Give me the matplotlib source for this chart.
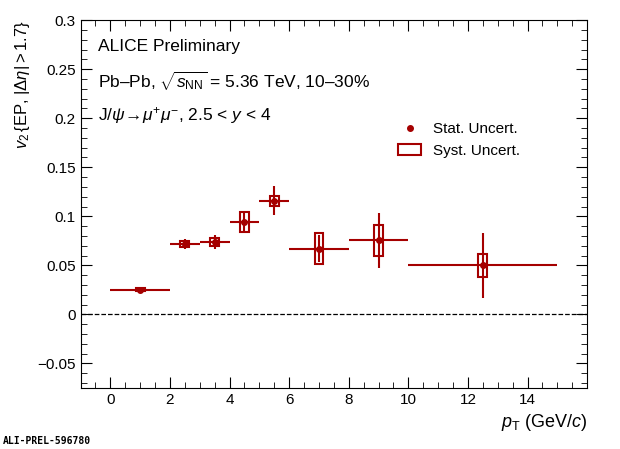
import numpy as np
import matplotlib.pyplot as plt
from matplotlib.patches import Rectangle
from matplotlib.lines import Line2D

pt = [1, 2.5, 3.5, 4.5, 5.5, 7, 9, 12.5]
pt_err = [1, 0.5, 0.5, 0.5, 0.5, 1, 1, 2.5]
v2 = [0.025, 0.072, 0.074, 0.094, 0.116, 0.067, 0.0755, 0.050]
stat = [0.0015, 0.005, 0.007, 0.011, 0.015, 0.014, 0.028, 0.033]
syst = [0.0015, 0.003, 0.004, 0.010, 0.005, 0.016, 0.016, 0.012]

red = "#a50000"
plt.rcParams["font.family"] = ["Liberation Sans", "DejaVu Sans"]
plt.rcParams["mathtext.fontset"] = "custom"
plt.rcParams["mathtext.rm"] = "Liberation Sans"
plt.rcParams["mathtext.it"] = "Liberation Sans:italic"

fig = plt.figure(figsize=(6.2, 4.49), dpi=100)
ax = fig.add_axes([0.13, 0.136, 0.817, 0.819])

for x, y, s in zip(pt, v2, syst):
    ax.add_patch(Rectangle((x - 0.15, y - s), 0.3, 2 * s, fill=False, ec=red, lw=1.5, zorder=3))
ax.errorbar(pt, v2, xerr=pt_err, yerr=stat, fmt="o", color=red, ms=4, lw=1.5, capsize=0, zorder=4)
ax.axhline(0, color="black", ls="--", lw=0.9)

ax.set_xlim(-1, 16)
ax.set_ylim(-0.075, 0.3)
ax.set_xticks(np.arange(0, 16, 2))
ax.set_yticks([-0.05, 0, 0.05, 0.1, 0.15, 0.2, 0.25, 0.3])
ax.set_yticklabels(["\u22120.05", "0", "0.05", "0.1", "0.15", "0.2", "0.25", "0.3"])
ax.minorticks_on()
ax.tick_params(which="both", direction="in", top=True, right=True, labelsize=11)
ax.tick_params(which="major", length=8)
ax.tick_params(which="minor", length=4)
ax.set_xlabel(r"$p_{\rm T}$ (GeV/$c$)", fontsize=13, loc="right")
ax.set_ylabel(r"$v_2\,\{$EP, $|\Delta\eta| > 1.7\}$", fontsize=12, loc="top")

ax.text(0.035, 0.95, "ALICE Preliminary", transform=ax.transAxes, fontsize=12.5, va="top")
ax.text(0.035, 0.865, "Pb\u2013Pb, " + r"$\sqrt{s_{\rm NN}}$" + " = 5.36 TeV, 10\u201330%",
        transform=ax.transAxes, fontsize=12.5, va="top")
ax.text(0.035, 0.77, r"J/$\psi\!\rightarrow\!\mu^{+}\mu^{-}$, 2.5 < $y$ < 4", transform=ax.transAxes,
        fontsize=12.5, va="top")

h_stat = Line2D([], [], color=red, marker="o", ms=4, lw=0, markevery=[0])
h_syst = Rectangle((0, 0), 1, 1, fill=False, ec=red, lw=1.5)
ax.legend([h_stat, h_syst], ["Stat. Uncert.", "Syst. Uncert."], loc="upper left",
          bbox_to_anchor=(0.6, 0.76), frameon=False, fontsize=11, handlelength=1.5)

fig.text(0.005, 0.012, "ALI-PREL-596780", fontsize=7, family="DejaVu Sans Mono", weight="bold")
fig.savefig("out.png", dpi=100)
